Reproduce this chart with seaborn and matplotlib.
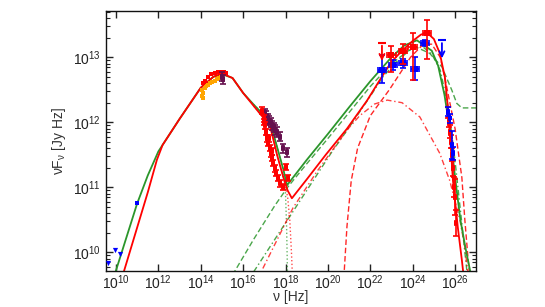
import numpy as np
import pandas as pd
import seaborn as sns
import matplotlib
matplotlib.use('Agg')
import matplotlib.pyplot as plt
from matplotlib.ticker import NullLocator, LogLocator, NullFormatter

# values are log10(nu [Hz]) and log10(nuF_nu [Jy Hz])
green_total_nu = [9.8, 10.05, 11.0, 11.5, 12.0, 13.0, 14.0, 14.6, 15.0, 15.5, 16.0, 16.5, 17.0, 17.3,
                  17.6, 17.9, 18.07, 19.0, 20.0, 21.0, 22.0, 23.0, 23.6, 24.2, 24.9, 25.2, 25.5,
                  25.75, 26.0, 26.25, 26.5, 26.75]
green_total_f = [9.5, 9.77, 10.75, 11.18, 11.55, 12.05, 12.53, 12.7, 12.74, 12.68, 12.45, 12.27, 12.1,
                 11.97, 11.62, 11.27, 11.03, 11.42, 11.82, 12.23, 12.63, 13.0, 13.18, 13.26, 13.1,
                 12.87, 12.42, 11.9, 11.15, 10.5, 10.05, 9.65]

red_total_nu = [10.3, 10.38, 11.0, 11.5, 11.93, 12.2, 13.0, 14.0, 14.6, 15.0, 15.5, 16.0, 16.5, 17.0,
                17.3, 17.6, 17.9, 18.1, 18.3, 19.0, 19.9, 20.9, 21.84, 22.45, 23.0, 23.5, 24.0, 24.4,
                24.7, 25.0, 25.28, 25.52, 25.7, 25.9, 26.13, 26.32, 26.45]
red_total_f = [9.6, 9.71, 10.38, 10.92, 11.42, 11.65, 12.05, 12.53, 12.7, 12.75, 12.68, 12.45, 12.25,
               12.05, 11.9, 11.5, 11.15, 10.95, 10.83, 11.12, 11.5, 11.9, 12.33, 12.65, 12.93, 13.1,
               13.25, 13.35, 13.37, 13.28, 13.06, 12.69, 12.1, 11.1, 10.38, 9.88, 9.5]

green_sync_nu = [16.5, 17.0, 17.3, 17.6, 17.9, 18.0, 18.05, 18.08, 18.1]
green_sync_f = [12.27, 12.1, 11.97, 11.62, 11.25, 10.9, 10.4, 9.9, 9.5]
red_sync_nu = [16.5, 17.0, 17.3, 17.6, 17.9, 18.1, 18.2, 18.28, 18.33]
red_sync_f = [12.25, 12.05, 11.9, 11.5, 11.15, 10.85, 10.5, 10.0, 9.6]

green_ssc_nu = [15.5, 16.5, 17.5, 18.1, 19.0, 20.0, 21.0, 22.0, 23.0, 23.8, 24.2, 24.8, 25.38, 25.85,
                26.08, 26.32, 27.0]
green_ssc_f = [9.65, 10.2, 10.72, 11.0, 11.36, 11.75, 12.15, 12.55, 12.9, 13.1, 13.15, 13.06, 12.85,
               12.49, 12.29, 12.22, 12.22]
green_ec_nu = [16.5, 17.5, 18.5, 19.3, 20.2, 21.0, 22.0, 22.6, 23.3, 24.0, 24.4, 24.9, 25.3, 25.7,
               26.0, 26.3, 26.56]
green_ec_f = [9.7, 10.2, 10.7, 11.1, 11.55, 11.92, 12.4, 12.7, 12.95, 13.15, 13.18, 13.05, 12.8, 12.2,
              11.4, 10.5, 9.7]

red_ssc_nu = [16.93, 18.35, 19.5, 20.9, 21.5, 22.2, 22.8, 23.5, 24.34, 25.28, 25.75, 26.23, 26.46, 26.6]
red_ssc_f = [9.75, 10.68, 11.25, 11.88, 12.1, 12.28, 12.34, 12.3, 12.08, 11.52, 11.1, 10.49, 10.08, 9.7]
red_ec_nu = [20.75, 20.9, 21.1, 21.4, 22.0, 22.9, 23.9, 24.5, 24.9, 25.3, 25.6, 26.0, 26.32, 26.46,
             26.6, 26.7]
red_ec_f = [9.6, 10.4, 11.1, 11.6, 12.1, 12.5, 13.0, 13.2, 13.2, 13.0, 12.55, 11.9, 11.15, 10.5,
            9.95, 9.6]

# data points
radio_nu = [9.62, 9.95, 10.19]
radio_f = [9.83, 10.03, 9.98]
mm_nu = [11.0]
mm_f = [10.75]
orange_nu = [14.05, 14.1, 14.12, 14.2, 14.25, 14.35, 14.45, 14.55, 14.65, 14.75, 14.85, 14.95, 14.08]
orange_f = [12.4, 12.45, 12.38, 12.52, 12.55, 12.57, 12.6, 12.62, 12.64, 12.66, 12.68, 12.7, 12.5]
red_opt_nu = [14.1, 14.2, 14.35, 14.5, 14.65, 14.8, 14.95, 15.1, 15.2]
red_opt_f = [12.6, 12.63, 12.7, 12.74, 12.76, 12.77, 12.77, 12.78, 12.76]
purple_nu = [15.0, 15.05, 17.03, 17.1, 17.17, 17.24, 17.31, 17.38, 17.45, 17.52, 17.59, 17.74, 17.88, 18.07]
purple_f = [12.7, 12.66, 12.14, 12.1, 12.06, 12.02, 12.0, 11.95, 11.92, 11.88, 11.85, 11.78, 11.6, 11.54]
red_x_nu = [16.89, 16.98, 17.03, 17.08, 17.12, 17.17, 17.26, 17.31, 17.36, 17.41, 17.5, 17.55, 17.64,
            17.74, 17.88, 18.02, 18.11, 17.2, 17.35, 17.0]
red_x_f = [12.18, 12.06, 11.95, 11.85, 11.75, 11.68, 11.6, 11.52, 11.45, 11.37, 11.29, 11.22, 11.14,
           11.06, 11.0, 11.31, 11.14, 11.75, 11.55, 12.0]

blue_g_nu = [22.55, 23.07, 23.54, 24.1, 24.58]
blue_g_f = [12.8, 12.88, 12.91, 12.82, 13.22]
blue_g_lo = [12.6, 12.8, 12.84, 12.65, 13.18]
blue_g_hi = [13.03, 12.96, 12.98, 13.0, 13.26]
red_g_nu = [23.0, 23.54, 24.0, 24.67]
red_g_f = [13.03, 13.1, 13.15, 13.38]
red_g_lo = [12.77, 12.9, 12.65, 12.98]
red_g_hi = [13.17, 13.2, 13.37, 13.57]
red_ul_nu, red_ul_f = 22.55, 13.22
blue_ul_nu, blue_ul_f = 25.38, 13.26

red_vhe_nu = [25.65, 25.7, 25.75, 25.8, 25.85, 25.9, 25.95, 26.0, 26.05]
red_vhe_f = [12.15, 12.0, 11.85, 11.7, 11.5, 11.3, 11.0, 10.85, 10.45]
red_vhe_err = [0.08, 0.08, 0.1, 0.1, 0.1, 0.12, 0.15, 0.28, 0.2]
blue_vhe_nu = [25.66, 25.75, 25.85, 25.9]
blue_vhe_f = [12.16, 12.06, 11.65, 11.52]
blue_vhe_err = [0.07, 0.07, 0.22, 0.1]

xtick_exp = [10, 12, 14, 16, 18, 20, 22, 24, 26]
ytick_exp = [10, 11, 12, 13]

GREEN = '#2b962b'
RED = '#ff0000'
BLUE = '#0000ff'
ORANGE = '#ffa500'
PURPLE = '#66104e'

sns.set_style('ticks')
plt.rcParams['font.family'] = ['Liberation Sans', 'DejaVu Sans']
plt.rcParams['mathtext.default'] = 'regular'

fig = plt.figure(figsize=(5.45, 3.07), dpi=100)
ax = fig.add_axes([0.1945, 0.117, 0.679, 0.847])
ax.set_xscale('log')
ax.set_yscale('log')


def line(nu, f, color, ls, lw=1.2, alpha=1.0):
    df = pd.DataFrame({'nu': 10.0 ** np.array(nu), 'f': 10.0 ** np.array(f)})
    sns.lineplot(data=df, x='nu', y='f', sort=False, color=color, linestyle=ls, linewidth=lw,
                 alpha=alpha, ax=ax)


def pts(nu, f, color, marker='s', s=9):
    sns.scatterplot(x=10.0 ** np.array(nu), y=10.0 ** np.array(f), color=color, marker=marker, s=s,
                    linewidth=0, ax=ax, zorder=4)


def errs(nu, f, lo, hi, color, dx=0.12):
    nu = np.array(nu)
    f = np.array(f)
    yerr = [10.0 ** f - 10.0 ** np.array(lo), 10.0 ** np.array(hi) - 10.0 ** f]
    xerr = [10.0 ** nu - 10.0 ** (nu - dx), 10.0 ** (nu + dx) - 10.0 ** nu]
    ax.errorbar(10.0 ** nu, 10.0 ** f, yerr=yerr, xerr=xerr, fmt='none', ecolor=color,
                elinewidth=1.2, capsize=2, capthick=1.2, zorder=4)


# model components
line(green_ssc_nu, green_ssc_f, GREEN, (0, (4, 2)), lw=1.0, alpha=0.85)
line(green_ec_nu, green_ec_f, GREEN, (0, (4, 2, 1, 2)), lw=1.0, alpha=0.85)
line(green_sync_nu, green_sync_f, GREEN, ':', lw=1.0, alpha=0.7)
line(red_ssc_nu, red_ssc_f, RED, (0, (4, 2, 1, 2)), lw=1.0, alpha=0.75)
line(red_ec_nu, red_ec_f, RED, (0, (4, 2)), lw=1.0, alpha=0.85)
line(red_sync_nu, red_sync_f, RED, ':', lw=1.0, alpha=0.7)

# data
pts(radio_nu, radio_f, BLUE, marker='v', s=14)
pts(mm_nu, mm_f, BLUE, s=8)
pts(orange_nu, orange_f, ORANGE, s=12)
pts(red_opt_nu, red_opt_f, RED, s=12)
errs(purple_nu, purple_f, np.array(purple_f) - 0.07, np.array(purple_f) + 0.07, PURPLE, dx=0.05)
pts(purple_nu, purple_f, PURPLE, s=10)
errs(red_x_nu, red_x_f, np.array(red_x_f) - 0.05, np.array(red_x_f) + 0.05, RED, dx=0.04)
pts(red_x_nu, red_x_f, RED, s=10)

errs(blue_g_nu, blue_g_f, blue_g_lo, blue_g_hi, BLUE, dx=0.2)
pts(blue_g_nu, blue_g_f, BLUE, s=14)
errs(red_g_nu, red_g_f, red_g_lo, red_g_hi, RED, dx=0.2)
pts(red_g_nu, red_g_f, RED, s=14)
errs(red_vhe_nu, red_vhe_f, np.array(red_vhe_f) - np.array(red_vhe_err),
     np.array(red_vhe_f) + np.array(red_vhe_err), RED, dx=0.03)
pts(red_vhe_nu, red_vhe_f, RED, s=8)
errs(blue_vhe_nu, blue_vhe_f, np.array(blue_vhe_f) - np.array(blue_vhe_err),
     np.array(blue_vhe_f) + np.array(blue_vhe_err), BLUE, dx=0.03)
pts(blue_vhe_nu, blue_vhe_f, BLUE, s=8)

# upper limits
for nu, f, c in [(red_ul_nu, red_ul_f, RED), (blue_ul_nu, blue_ul_f, BLUE)]:
    ax.errorbar([10.0 ** nu], [10.0 ** f], xerr=[[10.0 ** nu - 10.0 ** (nu - 0.2)], [10.0 ** (nu + 0.2) - 10.0 ** nu]],
                fmt='none', ecolor=c, elinewidth=1.5, zorder=4)
    ax.annotate('', xy=(10.0 ** nu, 10.0 ** (f - 0.32)), xytext=(10.0 ** nu, 10.0 ** f),
                arrowprops=dict(arrowstyle='->', color=c, lw=1.3, mutation_scale=9), zorder=4)

# totals
line(green_total_nu, green_total_f, GREEN, '-', lw=1.3)
line(red_total_nu, red_total_f, RED, '-', lw=1.3)

ax.set_xlim(10 ** 9.53, 10 ** 26.99)
ax.set_ylim(10 ** 9.71, 10 ** 13.71)
ax.set_xticks([10.0 ** e for e in xtick_exp])
ax.set_xticklabels(['$10^{%d}$' % e for e in xtick_exp])
ax.xaxis.set_minor_locator(NullLocator())
ax.set_yticks([10.0 ** e for e in ytick_exp])
ax.set_yticklabels(['$10^{%d}$' % e for e in ytick_exp])
ax.yaxis.set_minor_locator(LogLocator(base=10, subs=np.arange(2, 10)))
ax.yaxis.set_minor_formatter(NullFormatter())
ax.tick_params(which='both', direction='in', top=True, right=True, colors='#222222', labelsize=10)
ax.tick_params(axis='x', pad=1.5)
ax.tick_params(which='major', length=5, width=1)
ax.tick_params(which='minor', length=3, width=0.8)
for sp in ax.spines.values():
    sp.set_linewidth(1.0)
    sp.set_color('#111111')
ax.set_xlabel('ν [Hz]', fontsize=10, color='#333333', labelpad=-1)
ax.set_ylabel('νF$_ν$ [Jy Hz]', fontsize=10, color='#333333', labelpad=4)

fig.savefig('out.png', dpi=100)
